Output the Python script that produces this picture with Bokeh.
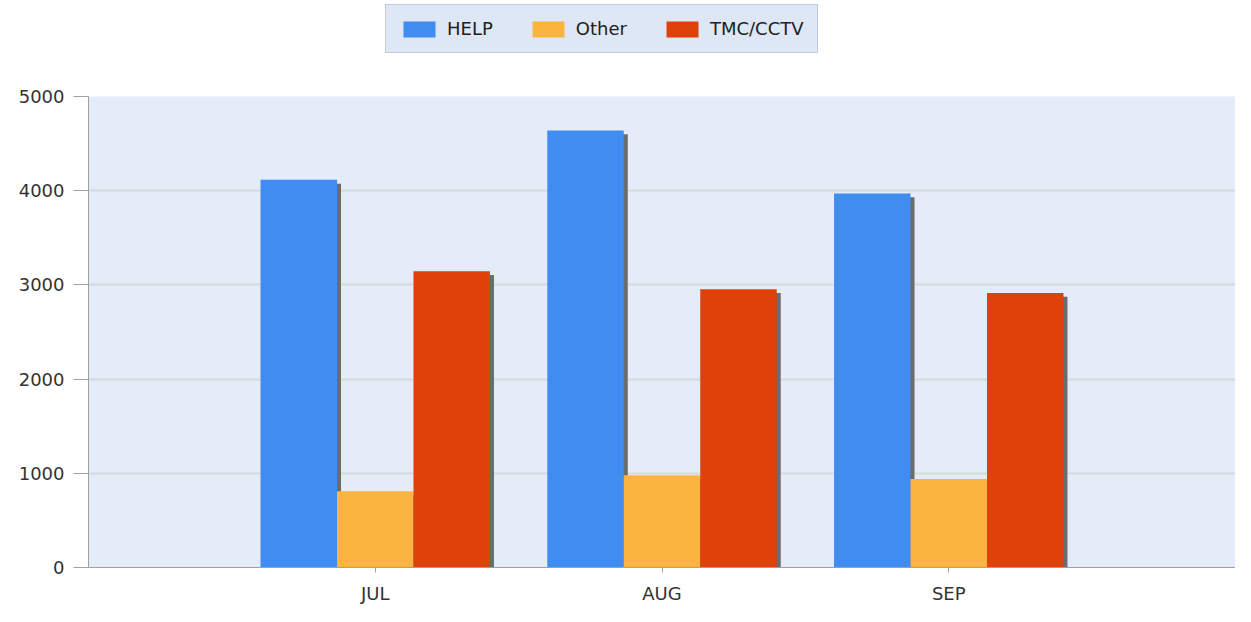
from bokeh.plotting import figure
from bokeh.models import ColumnDataSource, FactorRange, Legend, LegendItem, Range1d
from bokeh.layouts import column
from bokeh.transform import dodge
from bokeh.embed import file_html
from bokeh.resources import INLINE

months = ["JUL", "AUG", "SEP"]
help_vals = [4115, 4640, 3970]
other_vals = [810, 980, 940]
tmc_vals = [3145, 2955, 2915]
series_names = ["HELP", "Other", "TMC/CCTV"]
colors = ["#418CF0", "#FCB441", "#E0400A"]
y_ticks = [0, 1000, 2000, 3000, 4000, 5000]

src = ColumnDataSource(dict(months=months, HELP=help_vals, Other=other_vals, TMC=tmc_vals))
fields = ["HELP", "Other", "TMC"]
offsets = [-0.2667, 0.0, 0.2667]
w = 0.2667
FONT = "DejaVu Sans"

# ---- legend strip ----
lg = figure(width=1235, height=60, output_backend="svg", toolbar_location=None,
            x_range=FactorRange(factors=months), y_range=Range1d(100000, 100001),
            x_axis_location=None, y_axis_location=None,
            min_border_left=0, min_border_right=0, min_border_top=0, min_border_bottom=0)
lg.outline_line_color = None
lg.background_fill_color = "white"
lg.border_fill_color = "white"
lg.grid.visible = False
lg_r = []
for f, off, c in zip(fields, offsets, colors):
    lg_r.append(lg.vbar(x=dodge("months", off, range=lg.x_range), top=f, bottom=0, width=w,
                        source=src, fill_color=c, line_color=None))
legend = Legend(items=[LegendItem(label=n, renderers=[r]) for n, r in zip(series_names, lg_r)],
                orientation="horizontal", location=(297, 7))
legend.glyph_width = 40
legend.glyph_height = 20
legend.label_standoff = 8
legend.spacing = 35
legend.padding = 13
legend.margin = 0
legend.label_text_font = FONT
legend.label_text_font_size = "18px"
legend.label_text_color = "#202020"
legend.background_fill_color = "#DCE6F6"
legend.border_line_color = "#A8B0C0"
legend.border_line_width = 1
lg.add_layout(legend, "center")

# ---- main chart ----
p = figure(width=1235, height=546, output_backend="svg", toolbar_location=None,
           x_range=FactorRange(factors=months, range_padding=0.5, range_padding_units="absolute"),
           y_range=Range1d(0, 5000),
           min_border_left=88, min_border_right=0, min_border_bottom=34, min_border_top=36)
p.background_fill_color = "#E5ECF9"
p.border_fill_color = "white"
p.outline_line_color = None

for f, off, c in zip(fields, offsets, colors):
    p.vbar(x=dodge("months", off + 0.014, range=p.x_range), top=dodge(f, -40), bottom=-60,
           width=w, source=src, fill_color="#5E5E5E", line_color=None, fill_alpha=0.9)
for f, off, c in zip(fields, offsets, colors):
    p.vbar(x=dodge("months", off, range=p.x_range), top=f, bottom=0, width=w, source=src,
           fill_color=c, line_color=None)

for ax in (p.xaxis, p.yaxis):
    ax.axis_line_color = "#A0A0A0"
    ax.major_tick_line_color = "#A0A0A0"
    ax.minor_tick_line_color = None
    ax.major_label_text_font = FONT
    ax.major_label_text_font_size = "18px"
    ax.major_label_text_color = "#333333"
p.yaxis.major_tick_out = 15
p.yaxis.major_tick_in = 0
p.yaxis.major_label_standoff = 9
p.xaxis.major_tick_out = 5
p.xaxis.major_tick_in = 0
p.xaxis.major_label_standoff = 10
p.yaxis.ticker = y_ticks
p.xgrid.grid_line_color = None
p.ygrid.grid_line_color = "#D6D9DE"
p.ygrid.grid_line_width = 2

open("out.html", "w").write(file_html(column(lg, p, spacing=0), INLINE))
